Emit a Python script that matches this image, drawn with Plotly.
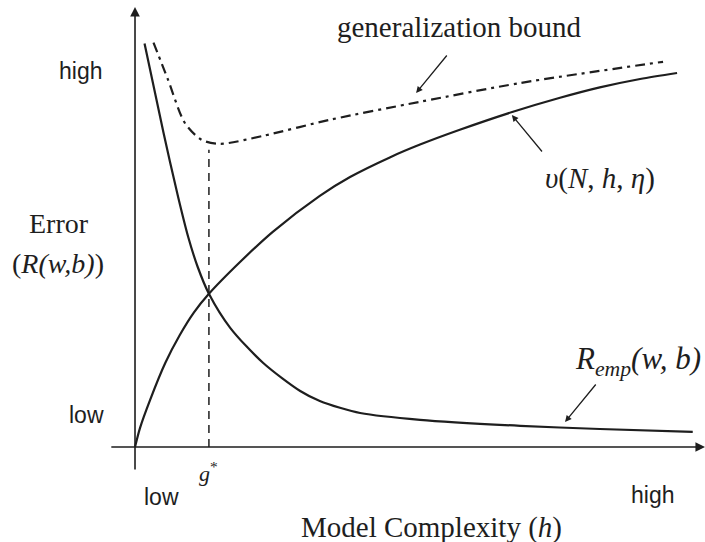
import plotly.graph_objects as go

# Curve samples (complexity h, error)
remp_h = [0.17, 0.51, 0.77, 0.95, 1.12, 1.32, 1.70, 2.29, 2.95, 3.30, 3.66, 4.02, 5.09, 6.88, 8.30, 9.96]
remp_e = [10.09, 7.85, 6.25, 5.25, 4.50, 3.83, 2.98, 2.10, 1.40, 1.15, 0.98, 0.85, 0.68, 0.53, 0.45, 0.38]

conf_h = [0.0, 0.09, 0.27, 0.54, 0.80, 1.05, 1.32, 1.88, 2.46, 3.30, 3.84, 4.55, 5.09, 5.80, 6.75, 7.59, 8.30, 9.02, 9.68]
conf_e = [0.0, 0.48, 1.18, 2.10, 2.80, 3.36, 3.83, 4.63, 5.38, 6.28, 6.75, 7.24, 7.56, 7.93, 8.38, 8.73, 8.99, 9.20, 9.35]

bound_h = [0.33, 0.59, 0.89, 1.19, 1.52, 2.29, 3.48, 5.09, 6.88, 9.43]
bound_e = [10.11, 9.18, 8.10, 7.68, 7.58, 7.78, 8.18, 8.63, 9.10, 9.63]

g_star = 1.32
g_star_top = 7.43

ink = "#1e1e1e"
serif = "Liberation Serif"
sans = "Liberation Sans"

fig = go.Figure()

fig.add_trace(go.Scatter(x=remp_h, y=remp_e, mode="lines",
                         line=dict(color=ink, width=2.2, shape="spline", smoothing=0.8)))
fig.add_trace(go.Scatter(x=conf_h, y=conf_e, mode="lines",
                         line=dict(color=ink, width=2.2, shape="spline", smoothing=0.8)))
fig.add_trace(go.Scatter(x=bound_h, y=bound_e, mode="lines",
                         line=dict(color=ink, width=2.2, shape="spline", smoothing=0.8,
                                   dash="10px,5px,3px,5px")))
fig.add_trace(go.Scatter(x=[g_star, g_star], y=[0, g_star_top], mode="lines",
                         line=dict(color=ink, width=1.5, dash="8px,6px")))

# axes drawn as arrows
def arrow(x, y, ax, ay, width=1.3, size=1.0):
    fig.add_annotation(x=x, y=y, ax=ax, ay=ay, xref="x", yref="y", axref="x", ayref="y",
                       text="", showarrow=True, arrowhead=2, arrowsize=size,
                       arrowwidth=width, arrowcolor=ink, standoff=0)

arrow(0, 11.0, 0, -0.6, width=1.6, size=1.2)
arrow(10.18, 0, -0.45, 0, width=1.6, size=1.2)

# pointer arrows for the labels
arrow(5.02, 8.85, 5.59, 9.825)
arrow(6.73, 8.30, 7.29, 7.35)
arrow(7.68, 0.625, 8.25, 1.60)

def label(x, y, text, family, size, xanchor="center"):
    fig.add_annotation(x=x, y=y, xref="x", yref="y", text=text, showarrow=False,
                       font=dict(family=family, size=size, color=ink),
                       xanchor=xanchor, yanchor="middle")

label(5.78, 10.5, "generalization bound", serif, 29)
label(8.30, 6.72, "<i>υ</i>(<i>N</i>, <i>h</i>, <i>η</i>)", serif, 29)
label(10.15, 2.15, "<i>R</i><sub><i>emp</i></sub><i>(w, b)</i>", serif, 31, xanchor="right")
label(1.32, -0.62, "<i>g</i><sup>*</sup>", serif, 22)

label(-1.36, 5.6, "Error", serif, 28)
label(-1.37, 4.6, "(<i>R(w,b)</i>)", serif, 28)
label(-0.98, 9.4, "high", sans, 23)
label(-0.87, 0.8, "low", sans, 23)
label(0.48, -1.25, "low", sans, 23)
label(9.25, -1.2, "high", sans, 23)
label(5.3, -2.0, "Model Complexity (<i>h</i>)", serif, 29)

fig.update_layout(
    width=705, height=542,
    margin=dict(l=0, r=0, t=0, b=0),
    paper_bgcolor="white", plot_bgcolor="white",
    showlegend=False,
    xaxis=dict(range=[-2.411, 10.179], visible=False, fixedrange=True),
    yaxis=dict(range=[-2.375, 11.175], visible=False, fixedrange=True),
)

fig.write_html("out.html", config={"displayModeBar": False},
               post_script="document.body.style.margin='0';")
